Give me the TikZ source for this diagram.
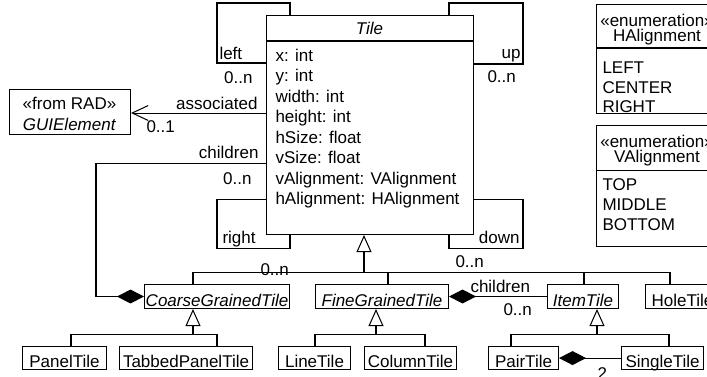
\documentclass[tikz,border=0pt]{standalone}
\usepackage{fontspec}
\setmainfont{Liberation Sans}
\usepackage{tikz}
\usetikzlibrary{arrows.meta, positioning}

\newcommand{\pxu}{0.5882pt}

\begin{document}
\begin{tikzpicture}[
    x=0.5882pt, y=-0.5882pt,
    line width=0.6pt,
    font=\fontsize{10}{12}\selectfont,
    cls/.style 2 args={draw, rectangle, inner sep=0pt, anchor=north west,
        minimum width=#1*\pxu, minimum height=#2*\pxu,
        text height=12.4pt, text depth=1.2pt},
    lbl/.style={inner sep=0pt},
    gen/.style={-{Triangle[open, length=10pt, width=8.8pt]}},
    comp/.style={{Diamond[length=15.9pt, width=8.2pt]}-},
    assoc/.style={-{Straight Barb[length=9.4pt, width=8.8pt]}}
]
  \useasboundingbox (0,0) rectangle (707,376);

  % Tile class
  \node[cls={207}{219}] (tile) at (266,15) {};
  \node[lbl, anchor=base] at (369.5,34) {\textit{Tile}};
  \draw ([yshift=-26*\pxu]tile.north west) -- ([yshift=-26*\pxu]tile.north east);
  \foreach \attr [count=\i from 0] in {x: int, y: int, width: int, height: int,
      hSize: float, vSize: float, vAlignment: VAlignment, hAlignment: HAlignment}
    \node[lbl, anchor=base west] at (275, 61+20.5*\i) {\attr};

  % GUIElement
  \node[cls={121}{45}] (gui) at (9,89) {};
  \node[lbl, anchor=base] at (69.5,109) {«from RAD»};
  \node[lbl, anchor=base] at (69.5,130) {\textit{GUIElement}};

  % Enumerations
  \node[cls={122}{109}] (halign) at (596,4) {};
  \draw ([yshift=-44*\pxu]halign.north west) -- ([yshift=-44*\pxu]halign.north east);
  \node[lbl, anchor=base] at (657,26) {«enumeration»};
  \node[lbl, anchor=base] at (657,41) {HAlignment};
  \node[lbl, anchor=base west] at (602,73) {LEFT};
  \node[lbl, anchor=base west] at (602,93) {CENTER};
  \node[lbl, anchor=base west] at (602,112) {RIGHT};

  \node[cls={122}{121}] (valign) at (596,125) {};
  \draw ([yshift=-45*\pxu]valign.north west) -- ([yshift=-45*\pxu]valign.north east);
  \node[lbl, anchor=base] at (657,147) {«enumeration»};
  \node[lbl, anchor=base] at (657,162) {VAlignment};
  \node[lbl, anchor=base west] at (602,190) {TOP};
  \node[lbl, anchor=base west] at (602,210) {MIDDLE};
  \node[lbl, anchor=base west] at (602,230) {BOTTOM};

  % Subclasses
  \node[cls={145}{24}] (coarse) at (144,284) {\textit{CoarseGrainedTile}};
  \node[cls={133}{24}] (fine) at (315,284) {\textit{FineGrainedTile}};
  \node[cls={71}{24}] (item) at (547,284) {\textit{ItemTile}};
  \node[cls={74}{24}] (hole) at (645,284) {HoleTile};

  \node[cls={84}{23}] (panel) at (22,346) {PanelTile};
  \node[cls={133}{23}] (tabbed) at (119,346) {TabbedPanelTile};
  \node[cls={72}{23}] (linet) at (278,346) {LineTile};
  \node[cls={92}{23}] (column) at (364,346) {ColumnTile};
  \node[cls={70}{23}] (pair) at (488,346) {PairTile};
  \node[cls={82}{23}] (single) at (621,346) {SingleTile};

  % Self associations
  \coordinate (lp1) at (290,3);   \coordinate (lp2) at (217,63);
  \coordinate (up1) at (449,3);   \coordinate (up2) at (523,64);
  \coordinate (rt1) at (217,199); \coordinate (rt2) at (290,248);
  \coordinate (dn1) at (523,199); \coordinate (dn2) at (449,248);
  \draw (tile.north -| lp1) -- (lp1) -| (lp2) -- (tile.west |- lp2);
  \draw (tile.north -| up1) -- (up1) -| (up2) -- (tile.east |- up2);
  \draw (tile.west |- rt1) -- (rt1) |- (rt2) -- (tile.south -| rt2);
  \draw (tile.east |- dn1) -- (dn1) |- (dn2) -- (tile.south -| dn2);
  \node[lbl, anchor=base west] at (219,59) {left};
  \node[lbl, anchor=base east] at (253,83) {0..n};
  \node[lbl, anchor=base east] at (521,58) {up};
  \node[lbl, anchor=base west] at (487,82) {0..n};
  \node[lbl, anchor=base west] at (222,243) {right};
  \node[lbl, anchor=base west] at (260,275) {0..n};
  \node[lbl, anchor=base east] at (520,243) {down};
  \node[lbl, anchor=base west] at (455,267) {0..n};

  % Associated GUI element
  \coordinate (asc) at (200,113);
  \draw[assoc] (tile.west |- asc) -- (gui.east |- asc);
  \node[lbl, anchor=base east] at (258,109) {associated};
  \node[lbl, anchor=base west] at (146,132) {0..1};

  % Children of coarse grained tiles
  \coordinate (ch1) at (96,163);
  \draw[comp] (coarse.west) -| (ch1) -- (tile.west |- ch1);
  \node[lbl, anchor=base east] at (259,158) {children};
  \node[lbl, anchor=base east] at (252,184) {0..n};

  % Generalization of Tile
  \coordinate (jt) at (364,272);
  \coordinate (jc) at (193,272); \coordinate (jf) at (388,272);
  \coordinate (ji) at (584,272); \coordinate (jh) at (670,272);
  \draw[gen] (jt) -- (tile.south -| jt);
  \draw (jc) -- (jh);
  \draw (jc) -- (coarse.north -| jc);
  \draw (jf) -- (fine.north -| jf);
  \draw (ji) -- (item.north -| ji);
  \draw (jh) -- (hole.north -| jh);

  % Generalization of CoarseGrainedTile
  \coordinate (sc) at (193,334);
  \coordinate (pa) at (71,334); \coordinate (ta) at (217,334);
  \draw[gen] (sc) -- (coarse.south -| sc);
  \draw (pa) -- (ta);
  \draw (pa) -- (panel.north -| pa);
  \draw (ta) -- (tabbed.north -| ta);

  % Generalization of FineGrainedTile
  \coordinate (sf) at (376,334);
  \coordinate (li) at (315,334); \coordinate (co) at (425,334);
  \draw[gen] (sf) -- (fine.south -| sf);
  \draw (li) -- (co);
  \draw (li) -- (linet.north -| li);
  \draw (co) -- (column.north -| co);

  % Generalization of ItemTile
  \coordinate (si) at (597,334);
  \coordinate (pr) at (511,334); \coordinate (sg) at (669,334);
  \draw[gen] (si) -- (item.south -| si);
  \draw (pr) -- (sg);
  \draw (pr) -- (pair.north -| pr);
  \draw (sg) -- (single.north -| sg);

  % Compositions
  \draw[comp] (fine.east) -- (item.west);
  \node[lbl, anchor=base west] at (470,292) {children};
  \node[lbl, anchor=base west] at (503,315) {0..n};
  \draw[comp] (pair.east) -- (single.west);
  \node[lbl, anchor=base west] at (597,379) {2};
\end{tikzpicture}
\end{document}
